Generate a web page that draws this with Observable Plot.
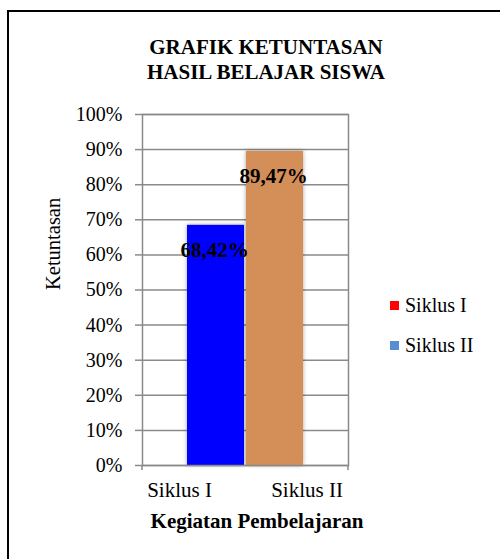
<!DOCTYPE html>
<html>
<head>
<meta charset="utf-8">
<script src="https://cdn.jsdelivr.net/npm/d3@7"></script>
<script src="https://cdn.jsdelivr.net/npm/@observablehq/plot@0.6"></script>
<style>
  html, body { margin: 0; padding: 0; background: #fff; }
  #wrap { position: relative; width: 500px; height: 559px; overflow: hidden; font-family: "Liberation Serif", "Times New Roman", serif; color: #000; }
  #border { position: absolute; left: 7px; top: 10px; width: 700px; height: 700px; border-left: 2px solid #000; border-top: 2.5px solid #000; }
  #chart { position: absolute; left: 0; top: 0; }
  #title { position: absolute; left: 116px; width: 300px; top: 35px; text-align: center; font-weight: bold; font-size: 21px; line-height: 25px; }
  .leg { position: absolute; left: 390px; font-size: 20px; line-height: 20px; white-space: nowrap; }
  .leg .sw { position: absolute; left: 0; width: 9px; height: 9px; }
  .leg .lt { position: absolute; left: 15px; top: 0; }
  g[aria-label="bar"] rect { filter: drop-shadow(0px 0px 2px rgba(0,0,0,0.35)); }
</style>
</head>
<body>
<div id="wrap">
  <div id="border"></div>
  <div id="chart"></div>
  <div id="title"></div>
  <div id="legend"></div>
</div>
<script>
// ---- data ----
const chartTitle = ["GRAFIK KETUNTASAN", "HASIL BELAJAR SISWA"];
const categories = ["Siklus I", "Siklus II"];
const values = [0.6842, 0.8947];
const valueLabels = ["68,42%", "89,47%"];
const barColors = ["#0000FF", "#D48E57"];
const yTicks = [0, 0.1, 0.2, 0.3, 0.4, 0.5, 0.6, 0.7, 0.8, 0.9, 1.0];
const yTitle = "Ketuntasan";
const xTitle = "Kegiatan Pembelajaran";
const legendLabels = ["Siklus I", "Siklus II"];
const legendColors = ["#FF0000", "#558ED5"];

const data = categories.map((c, i) => ({cat: c, value: values[i], label: valueLabels[i], color: barColors[i]}));

const gridColor = "#8a8a8a";

// corner extensions of the axes below the baseline
function axisExtensions(index, scales, values, dims) {
  const g = d3.create("svg:g");
  const y0 = dims.height - dims.marginBottom;
  [dims.marginLeft, dims.width - dims.marginRight].forEach(x => {
    g.append("line").attr("x1", x).attr("x2", x).attr("y1", y0).attr("y2", y0 + 5)
      .attr("stroke", gridColor).attr("stroke-width", 1.5);
  });
  return g.node();
}

const chart = Plot.plot({
  width: 500,
  height: 559,
  marginLeft: 142,
  marginRight: 152,
  marginTop: 114,
  marginBottom: 94,
  style: {fontFamily: "'Liberation Serif', 'Times New Roman', serif", fontSize: "20px", color: "#000", background: "transparent"},
  x: {type: "band", domain: categories, paddingInner: 0.04, paddingOuter: 0.74, label: null},
  y: {domain: [0, 1], label: null},
  color: {type: "identity"},
  marks: [
    Plot.ruleY(yTicks, {stroke: gridColor, strokeWidth: 1.5}),
    Plot.barY(data, {x: "cat", y: "value", fill: "color"}),
    Plot.frame({stroke: gridColor, strokeWidth: 1.5}),
    axisExtensions,
    Plot.axisY({ticks: yTicks, tickFormat: d => Math.round(d * 100) + "%", tickSize: 7, tickPadding: 13, stroke: gridColor, strokeWidth: 1.5, fill: "#000", strokeOpacity: 1, label: null}),
    Plot.axisX({ticks: [categories[0]], tickSize: 0, tickPadding: 17, dx: -36.5, fill: "#000", fontSize: 21, label: null}),
    Plot.axisX({ticks: [categories[1]], tickSize: 0, tickPadding: 17, dx: 32, fill: "#000", fontSize: 21, label: null}),
    Plot.text(data, {x: "cat", y: "value", text: "label", dy: 25, dx: -1.5, fontWeight: "bold", fontSize: 21, fill: "#000"}),
    Plot.text([yTitle], {frameAnchor: "left", rotate: -90, dx: -89, fontSize: 20.5, fill: "#000"}),
    Plot.text([xTitle], {frameAnchor: "bottom", lineAnchor: "top", dy: 48, dx: 11.5, fontWeight: "bold", fontSize: 21, fill: "#000"})
  ]
});
document.getElementById("chart").appendChild(chart);

// title
document.getElementById("title").innerHTML = chartTitle.map(t => `<div>${t}</div>`).join("");

// legend
const legendTops = [295, 335];
const leg = document.getElementById("legend");
legendLabels.forEach((l, i) => {
  const item = document.createElement("div");
  item.className = "leg";
  item.style.top = legendTops[i] + "px";
  item.innerHTML = `<span class="sw" style="background:${legendColors[i]};top:6px"></span><span class="lt">${l}</span>`;
  leg.appendChild(item);
});
</script>
</body>
</html>
